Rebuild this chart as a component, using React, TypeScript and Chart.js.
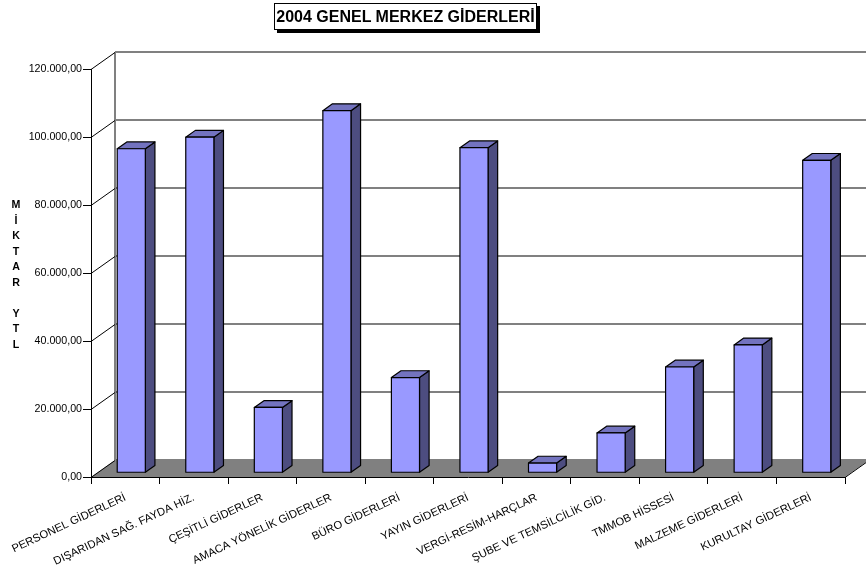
import React, { useEffect, useRef } from 'react';
import { Chart, registerables } from 'chart.js';

Chart.register(...registerables);

const chartTitle = '2004 GENEL MERKEZ GİDERLERİ';
const axisTitleLetters = ['M', 'İ', 'K', 'T', 'A', 'R', '', 'Y', 'T', 'L'];

const categories = [
  'PERSONEL GİDERLERİ',
  'DIŞARIDAN SAĞ. FAYDA HİZ.',
  'ÇEŞİTLİ GİDERLER',
  'AMACA YÖNELİK GİDERLER',
  'BÜRO GİDERLERİ',
  'YAYIN GİDERLERİ',
  'VERGİ-RESİM-HARÇLAR',
  'ŞUBE VE TEMSİLCİLİK GİD.',
  'TMMOB HİSSESİ',
  'MALZEME GİDERLERİ',
  'KURULTAY GİDERLERİ',
];

const amounts = [95300, 98700, 19200, 106500, 28000, 95600, 2850, 11700, 31100, 37600, 91900];

const yMin = 0;
const yMax = 120000;
const yStep = 20000;

function formatTR(v: number): string {
  const s = Math.round(v).toString().replace(/\B(?=(\d{3})+(?!\d))/g, '.');
  return s + ',00';
}

// 3D geometry (projection of the depth axis)
const DX = 24;
const DY = -17;
const BAR_FRONT = 0.25;
const BAR_BACK = 0.65;

const FRONT_COLOR = '#9999FF';
const TOP_COLOR = '#7373BF';
const SIDE_COLOR = '#4D4D80';
const FLOOR_COLOR = '#808080';
const GRID_COLOR = '#808080';

const threeDPlugin = {
  id: 'threeD',
  beforeDraw(chart: any) {
    const { ctx, chartArea, scales } = chart;
    const { left, right, top, bottom } = chartArea;
    const y = scales.y;
    ctx.save();
    // floor
    ctx.fillStyle = FLOOR_COLOR;
    ctx.beginPath();
    ctx.moveTo(left, bottom);
    ctx.lineTo(right, bottom);
    ctx.lineTo(right + DX, bottom + DY);
    ctx.lineTo(left + DX, bottom + DY);
    ctx.closePath();
    ctx.fill();
    // back wall gridlines
    ctx.strokeStyle = GRID_COLOR;
    ctx.lineWidth = 2;
    y.ticks.forEach((t: any) => {
      const py = Math.round(y.getPixelForValue(t.value)) + DY;
      ctx.beginPath();
      ctx.moveTo(left + DX, py);
      ctx.lineTo(right + DX + 20, py);
      ctx.stroke();
    });
    // back wall left edge
    ctx.beginPath();
    ctx.moveTo(left + DX, top + DY);
    ctx.lineTo(left + DX, bottom + DY);
    ctx.stroke();
    // side wall diagonals
    ctx.strokeStyle = '#000';
    ctx.lineWidth = 1;
    y.ticks.forEach((t: any) => {
      const py = Math.round(y.getPixelForValue(t.value)) + 0.5;
      ctx.beginPath();
      ctx.moveTo(left, py);
      ctx.lineTo(left + DX, py + DY);
      ctx.stroke();
    });
    // right floor edge
    ctx.beginPath();
    ctx.moveTo(right, bottom + 0.5);
    ctx.lineTo(right + DX, bottom + DY + 0.5);
    ctx.stroke();
    ctx.restore();
  },
  afterDatasetsDraw(chart: any) {
    const { ctx } = chart;
    const meta = chart.getDatasetMeta(0);
    const fdx = DX * BAR_FRONT;
    const fdy = DY * BAR_FRONT;
    const bdx = DX * (BAR_BACK - BAR_FRONT);
    const bdy = DY * (BAR_BACK - BAR_FRONT);
    ctx.save();
    ctx.lineWidth = 1.2;
    ctx.strokeStyle = '#000';
    ctx.lineJoin = 'round';
    meta.data.forEach((el: any) => {
      const p = el.getProps(['x', 'y', 'base', 'width'], true);
      const x0 = p.x - p.width / 2 + fdx;
      const x1 = p.x + p.width / 2 + fdx;
      const yt = p.y + fdy;
      const yb = p.base + fdy;
      // side face
      ctx.fillStyle = SIDE_COLOR;
      ctx.beginPath();
      ctx.moveTo(x1, yb);
      ctx.lineTo(x1 + bdx, yb + bdy);
      ctx.lineTo(x1 + bdx, yt + bdy);
      ctx.lineTo(x1, yt);
      ctx.closePath();
      ctx.fill();
      ctx.stroke();
      // top face
      ctx.fillStyle = TOP_COLOR;
      ctx.beginPath();
      ctx.moveTo(x0, yt);
      ctx.lineTo(x1, yt);
      ctx.lineTo(x1 + bdx, yt + bdy);
      ctx.lineTo(x0 + bdx, yt + bdy);
      ctx.closePath();
      ctx.fill();
      ctx.stroke();
      // front face
      ctx.fillStyle = FRONT_COLOR;
      ctx.beginPath();
      ctx.rect(x0, yt, x1 - x0, yb - yt);
      ctx.fill();
      ctx.stroke();
    });
    ctx.restore();
  },
};

export default function App() {
  const canvasRef = useRef<HTMLCanvasElement | null>(null);

  useEffect(() => {
    document.body.style.margin = '0';
    const canvas = canvasRef.current;
    if (!canvas) return;
    const yFont = { family: 'Arial, "Liberation Sans", sans-serif', size: 10.67 };
    const xFont = { family: 'Arial, "Liberation Sans", sans-serif', size: 11.2 };
    const chart = new Chart(canvas, {
      type: 'bar',
      data: {
        labels: categories,
        datasets: [
          {
            data: amounts,
            backgroundColor: 'rgba(0,0,0,0)',
            borderWidth: 0,
            barPercentage: 0.41,
            categoryPercentage: 1,
          },
        ],
      },
      options: {
        animation: false,
        responsive: false,
        devicePixelRatio: 1,
        layout: { padding: { top: 69, right: 21, left: 0, bottom: 0 } },
        plugins: {
          legend: { display: false },
          tooltip: { enabled: false },
          title: { display: false },
        },
        scales: {
          x: {
            grid: { display: true, drawOnChartArea: false, tickLength: 7, color: '#000', offset: true },
            border: { display: true, color: '#000' },
            ticks: {
              autoSkip: false,
              minRotation: 25,
              maxRotation: 25,
              font: xFont,
              color: '#000',
              padding: 7,
            },
            afterFit: (s: any) => {
              s.height = 96;
            },
          },
          y: {
            min: yMin,
            max: yMax,
            grid: { display: true, drawOnChartArea: false, tickLength: 8, color: '#000' },
            border: { display: true, color: '#000' },
            ticks: {
              stepSize: yStep,
              font: yFont,
              color: '#000',
              padding: 1,
              callback: (v: any) => formatTR(Number(v)),
            },
            afterFit: (s: any) => {
              s.width = 91;
            },
          },
        },
      },
      plugins: [threeDPlugin],
    } as any);
    return () => chart.destroy();
  }, []);

  return (
    <div style={{ position: 'fixed', left: 0, top: 0, width: 866, height: 573, background: '#fff', overflow: 'hidden' }}>
      <canvas ref={canvasRef} width={866} height={573} style={{ position: 'absolute', left: 0, top: 0 }} />
      <div
        style={{
          position: 'absolute',
          left: 274,
          top: 3,
          width: 261,
          height: 25,
          border: '1px solid #000',
          boxShadow: '3px 3px 0 #000',
          background: '#fff',
          font: 'bold 16px Arial, "Liberation Sans", sans-serif',
          color: '#000',
          display: 'flex',
          alignItems: 'center',
          justifyContent: 'center',
          whiteSpace: 'nowrap',
        }}
      >
        {chartTitle}
      </div>
      <div
        style={{
          position: 'absolute',
          left: 6,
          top: 197,
          width: 20,
          textAlign: 'center',
          font: 'bold 10.67px Arial, "Liberation Sans", sans-serif',
          lineHeight: '15.5px',
          color: '#000',
          whiteSpace: 'pre-line',
        }}
      >
        {axisTitleLetters.join('\n')}
      </div>
    </div>
  );
}
